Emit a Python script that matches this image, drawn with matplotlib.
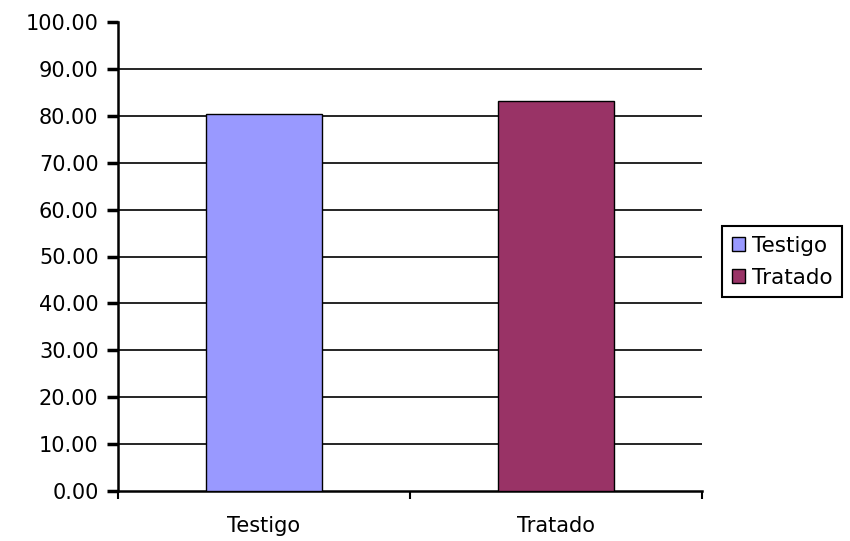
import matplotlib
matplotlib.use("Agg")
import matplotlib.pyplot as plt
import numpy as np

categories = ["Testigo", "Tratado"]
values = [80.4, 83.2]
colors = ["#9999FF", "#993366"]
yticks = [0, 10, 20, 30, 40, 50, 60, 70, 80, 90, 100]

plt.rcParams['font.family'] = ['DejaVu Sans']

fig = plt.figure(figsize=(8.5, 5.41), dpi=100)
ax = fig.add_axes([118/850, 1-491/541, 584/850, (491-22)/541])

x = np.arange(len(categories))
bars = ax.bar(x, values, width=0.4, color=colors, edgecolor="black", linewidth=1.0,
              label=categories, zorder=3)

ax.set_xlim(-0.5, len(categories) - 0.5)
ax.set_ylim(0, 100)

for yv in yticks[1:-1]:
    ax.axhline(yv, color="black", linewidth=1.2, zorder=1)

ax.set_yticks(yticks)
ax.set_yticklabels([f"{v:.2f}" for v in yticks], fontsize=15)
ax.set_xticks(x)
ax.set_xticklabels(categories, fontsize=15)
ax.set_xticks(np.arange(-0.5, len(categories)), minor=True)
ax.tick_params(axis='x', which='major', length=0, pad=18)
ax.tick_params(axis='x', which='minor', length=6, width=1.5, direction='out')
ax.tick_params(axis='y', length=8, width=2.5, direction='out', pad=6)

for s in ['top', 'right']:
    ax.spines[s].set_visible(False)
for s in ['left', 'bottom']:
    ax.spines[s].set_linewidth(1.8)
    ax.spines[s].set_color('black')

leg = fig.legend(handles=list(bars), labels=categories, loc='upper left',
                 bbox_to_anchor=(722/850, 1-226/541), fancybox=False,
                 edgecolor='black', framealpha=1, fontsize=15.5,
                 handlelength=0.6, handleheight=0.6, handletextpad=0.35,
                 borderpad=0.45, labelspacing=0.55, borderaxespad=0)
leg.get_frame().set_linewidth(1.5)

fig.savefig("out.png", dpi=100)
